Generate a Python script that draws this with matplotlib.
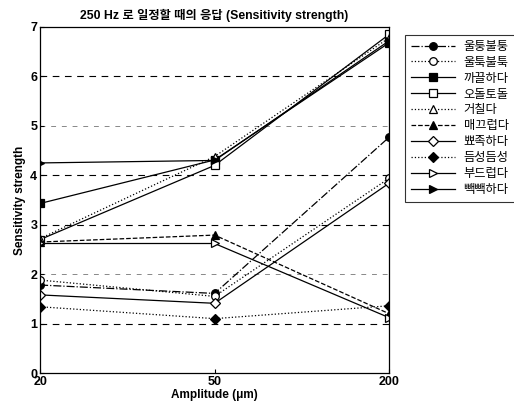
import matplotlib
matplotlib.use('Agg')
import matplotlib.pyplot as plt

plt.rcParams['font.family'] = ['Liberation Sans', 'Noto Sans CJK KR', 'DejaVu Sans']
plt.rcParams['axes.unicode_minus'] = False

# amplitude categories (um)
amplitudes = ['20', '50', '200']

# sensitivity strength per adjective
s_ultung = [1.78, 1.61, 4.77]     # 울퉁불퉁
s_ultuk = [1.88, 1.55, 3.94]      # 울툭불툭
s_kkakkeul = [3.43, 4.31, 6.68]   # 까끌하다
s_odol = [2.70, 4.20, 6.85]       # 오돌토돌
s_geochil = [2.72, 4.38, 6.78]    # 거칠다
s_maekkeu = [2.65, 2.79, 1.20]    # 매끄럽다
s_ppyojok = [1.58, 1.41, 3.84]    # 뾰족하다
s_deumseong = [1.34, 1.10, 1.36]  # 듬성듬성
s_budeu = [2.62, 2.62, 1.12]      # 부드럽다
s_ppaek = [4.25, 4.30, 6.72]      # 빽빽하다

labels = ['울퉁불퉁', '울툭불툭', '까끌하다', '오돌토돌', '거칠다',
          '매끄럽다', '뾰족하다', '듬성듬성', '부드럽다', '빽빽하다']
series = [s_ultung, s_ultuk, s_kkakkeul, s_odol, s_geochil,
          s_maekkeu, s_ppyojok, s_deumseong, s_budeu, s_ppaek]
# (marker, filled, linestyle)
styles = [('o', True, '-.'), ('o', False, ':'), ('s', True, '-'),
          ('s', False, '-'), ('^', False, ':'), ('^', True, '--'),
          ('D', False, '-'), ('D', True, ':'), ('>', False, '-'),
          ('>', True, '-')]

fig = plt.figure(figsize=(5.14, 4.09), dpi=100)
ax = fig.add_axes([0.078, 0.088, 0.679, 0.846])

x = list(range(len(amplitudes)))
for lab, vals, (mk, filled, ls) in zip(labels, series, styles):
    ms = 5.5 if mk != 'D' else 5
    ax.plot(x, vals, linestyle=ls, color='black', linewidth=0.9,
            marker=mk, markersize=ms,
            markerfacecolor='black' if filled else 'white',
            markeredgecolor='black', markeredgewidth=0.9, label=lab)

# horizontal guide lines
for yv in [1, 3, 4, 6]:
    ax.axhline(yv, color='black', linestyle=(0, (6, 5)), linewidth=0.8, zorder=0)
for yv in [2, 5]:
    ax.axhline(yv, color='#888888', linestyle=(0, (5, 6)), linewidth=0.7, zorder=0)

ax.set_xlim(0, 2)
ax.set_ylim(0, 7)
ax.set_xticks(x)
ax.set_xticklabels(amplitudes)
ax.set_yticks(range(0, 8))
ax.tick_params(labelsize=9, length=3, direction='in', pad=2)
for t in ax.get_xticklabels() + ax.get_yticklabels():
    t.set_fontweight('bold')
for sp in ax.spines.values():
    sp.set_linewidth(0.9)

ax.set_xlabel('Amplitude (μm)', fontsize=8.5, fontweight='bold', labelpad=1)
ax.set_ylabel('Sensitivity strength', fontsize=8.5, fontweight='bold', labelpad=3)
ax.set_title('250 Hz 로 일정할 때의 응답 (Sensitivity strength)',
             fontsize=8.8, fontweight='bold', pad=6)

leg = fig.legend(loc='upper left', bbox_to_anchor=(0.776, 0.93),
                 fontsize=8.8, frameon=True, fancybox=False, handlelength=3.6,
                 borderpad=0.5, labelspacing=0.32, handletextpad=0.7)
leg.get_frame().set_edgecolor('black')
leg.get_frame().set_linewidth(0.8)

fig.savefig('out.png', dpi=100)
